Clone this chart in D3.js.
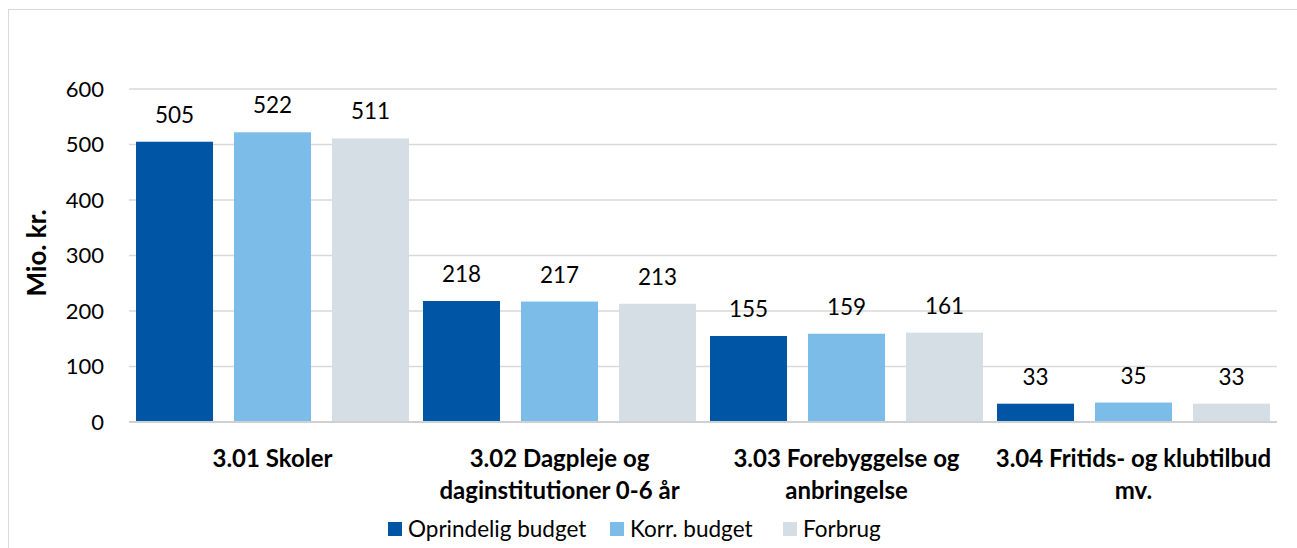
<!DOCTYPE html>
<html lang="da">
  <head>
    <meta charset="UTF-8" />
    <title>Budget og forbrug</title>
    <script src="https://d3js.org/d3.v7.min.js"></script>
    <style>
      body {
        margin: 0;
        background: #fff;
      }
      text {
        font-family: Lato, "Open Sans", sans-serif;
        fill: #000;
      }
      .grid line {
        stroke: #d9d9d9;
        stroke-width: 1.5;
      }
    </style>
  </head>
  <body>
    <svg id="svg" width="1297" height="548"></svg>
    <script>
      const categories = [
        ["3.01 Skoler"],
        ["3.02 Dagpleje og", "daginstitutioner 0-6 år"],
        ["3.03 Forebyggelse og", "anbringelse"],
        ["3.04 Fritids- og klubtilbud", "mv."]
      ];
      const seriesNames = ["Oprindelig budget", "Korr. budget", "Forbrug"];
      const oprindelig = [505, 218, 155, 33];
      const korr = [522, 217, 159, 35];
      const forbrug = [511, 213, 161, 33];
      const yTicks = [0, 100, 200, 300, 400, 500, 600];
      const colors = ["#0055a4", "#7bbde8", "#d5dee4"];

      const values = [oprindelig, korr, forbrug];

      const svg = d3.select("#svg");
      const margin = { left: 129, right: 20, top: 89, bottom: 126 };
      const width = 1297, height = 548;

      // chart border
      svg.append("rect")
        .attr("x", 8.5).attr("y", 9.5)
        .attr("width", 1300).attr("height", 560)
        .attr("fill", "none")
        .attr("stroke", "#d9d9d9");

      const y = d3.scaleLinear().domain([0, 600]).range([height - margin.bottom, margin.top]);
      const x0 = d3.scaleBand()
        .domain(d3.range(categories.length))
        .range([margin.left, 1277]);
      const x1 = d3.scaleBand()
        .domain(d3.range(seriesNames.length))
        .range([7, x0.bandwidth() - 7])
        .paddingInner(0.214);

      // gridlines
      svg.append("g").attr("class", "grid")
        .selectAll("line")
        .data(yTicks.slice(1))
        .join("line")
        .attr("x1", margin.left).attr("x2", 1277)
        .attr("y1", d => y(d)).attr("y2", d => y(d));

      // y tick labels
      svg.append("g")
        .selectAll("text")
        .data(yTicks)
        .join("text")
        .attr("x", 104)
        .attr("y", d => y(d))
        .attr("dy", "0.36em")
        .attr("text-anchor", "end")
        .style("font-size", "22px")
        .text(d => d);

      // y title
      svg.append("text")
        .attr("transform", "translate(46,253) rotate(-90)")
        .attr("text-anchor", "middle")
        .style("font-size", "26px")
        .style("font-weight", "bold")
        .text("Mio. kr.");

      // bars
      const groups = svg.append("g")
        .selectAll("g")
        .data(categories)
        .join("g")
        .attr("transform", (d, i) => `translate(${x0(i)},0)`);

      groups.selectAll("rect")
        .data((d, i) => values.map((s, j) => ({ s: j, v: s[i] })))
        .join("rect")
        .attr("x", d => x1(d.s))
        .attr("width", x1.bandwidth())
        .attr("y", d => y(d.v))
        .attr("height", d => y(0) - y(d.v))
        .attr("fill", d => colors[d.s]);

      groups.selectAll("text.val")
        .data((d, i) => values.map((s, j) => ({ s: j, v: s[i] })))
        .join("text")
        .attr("class", "val")
        .attr("x", d => x1(d.s) + x1.bandwidth() / 2)
        .attr("y", d => y(d.v) - 19)
        .attr("text-anchor", "middle")
        .style("font-size", "22.5px")
        .text(d => d.v);

      // zero axis line
      svg.append("line")
        .attr("x1", margin.left).attr("x2", 1277)
        .attr("y1", y(0)).attr("y2", y(0))
        .attr("stroke", "#d0d0d0")
        .attr("stroke-width", 2);

      // category labels
      groups.append("text")
        .attr("text-anchor", "middle")
        .style("font-size", "24px")
        .style("font-weight", "bold")
        .selectAll("tspan")
        .data(d => d)
        .join("tspan")
        .attr("x", x0.bandwidth() / 2)
        .attr("y", (d, i) => 467 + i * 32)
        .text(d => d);

      // legend
      const legendX = [388, 610, 783];
      const legend = svg.append("g")
        .selectAll("g")
        .data(seriesNames)
        .join("g")
        .attr("transform", (d, i) => `translate(${legendX[i]},522)`);
      legend.append("rect")
        .attr("width", 14).attr("height", 14)
        .attr("fill", (d, i) => colors[i]);
      legend.append("text")
        .attr("x", 20).attr("y", 7).attr("dy", "0.36em")
        .style("font-size", "22.5px")
        .text(d => d);
    </script>
  </body>
</html>
